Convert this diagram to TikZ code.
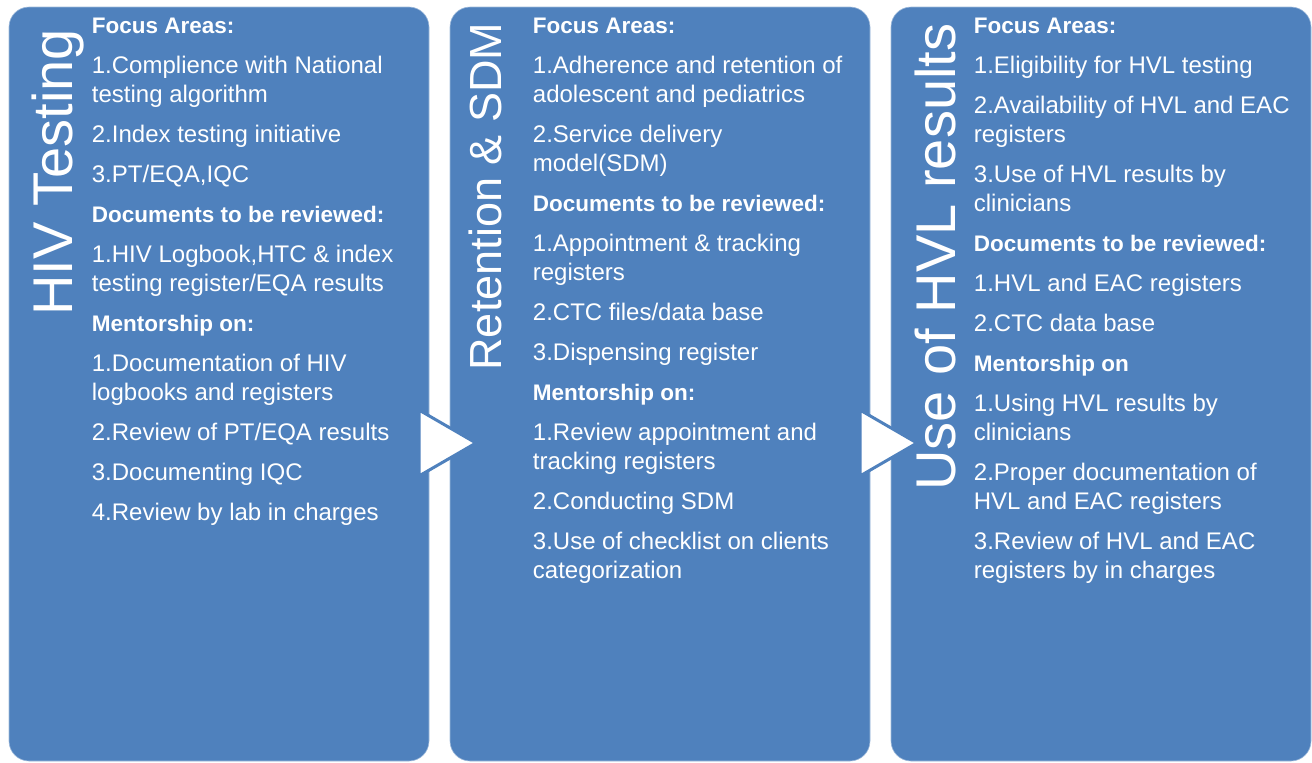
\documentclass[tikz,border=0pt]{standalone}
\usepackage{fontspec}
\setmainfont{Liberation Sans}
\usetikzlibrary{positioning, calc}

\definecolor{panelblue}{HTML}{4F81BD}

% bold sub-heading inside a panel list
\newcommand{\listhead}[1]{{\bfseries\fontsize{22.5}{29}\selectfont #1\par}}

\begin{document}
\begin{tikzpicture}[
  x=1pt, y=-1pt,
  panel/.style={fill=panelblue, draw=panelblue!55!white, line width=0.6pt,
                rounded corners=20pt, minimum width=420pt, minimum height=754pt,
                inner sep=0pt},
  title/.style={text=white, rotate=90, anchor=base west, inner sep=0pt},
  items/.style={text=white, anchor=base west, inner sep=0pt,
                font=\fontsize{24}{29}\selectfont},
  chevron/.style={fill=white, draw=panelblue, line width=3pt, line join=miter},
]
\useasboundingbox (0,0) rectangle (1312,763);

% --- three panels ---
\node[panel] (testing) at (219,384) {};
\node[panel, right=20.4pt of testing] (retention) {};
\node[panel, right=20.4pt of retention] (hvl) {};

% --- arrows between panels ---
\foreach \x in {419,860}
  \draw[chevron] (\x,410) -- (\x+57,443) -- (\x,476) -- cycle;

% --- panel titles ---
\node[title, font=\fontsize{56}{60}\selectfont] (ttesting)
  at ([shift={(64,309)}]testing.north west) {HIV Testing};
\node[title, font=\fontsize{45}{50}\selectfont] (tretention)
  at ([shift={(52,364)}]retention.north west) {Retention \& SDM};
\node[title, font=\fontsize{56}{60}\selectfont] (thvl)
  at ([shift={(65,484)}]hvl.north west) {Use of HVL results};

% --- panel lists ---
\node[items] (ltesting) at ([shift={(83,27)}]testing.north west)
  {\parbox[t]{330pt}{\raggedright\setlength{\parskip}{11pt}%
   \listhead{Focus Areas:}
   1.Complience with National\\ testing algorithm\par
   2.Index testing initiative\par
   3.PT/EQA,IQC\par
   \listhead{Documents to be reviewed:}
   1.HIV Logbook,HTC \& index\\ testing register/EQA results\par
   \listhead{Mentorship on:}
   1.Documentation of HIV\\ logbooks and registers\par
   2.Review of PT/EQA results\par
   3.Documenting IQC\par
   4.Review by lab in charges}};

\node[items] (lretention) at ([shift={(83,27)}]retention.north west)
  {\parbox[t]{330pt}{\raggedright\setlength{\parskip}{11pt}%
   \listhead{Focus Areas:}
   1.Adherence and retention of\\ adolescent and pediatrics\par
   2.Service delivery\\ model(SDM)\par
   \listhead{Documents to be reviewed:}
   1.Appointment \& tracking\\ registers\par
   2.CTC files/data base\par
   3.Dispensing register\par
   \listhead{Mentorship on:}
   1.Review appointment and\\ tracking registers\par
   2.Conducting SDM\par
   3.Use of checklist on clients\\ categorization}};

\node[items] (lhvl) at ([shift={(83,27)}]hvl.north west)
  {\parbox[t]{330pt}{\raggedright\setlength{\parskip}{11pt}%
   \listhead{Focus Areas:}
   1.Eligibility for HVL testing\par
   2.Availability of HVL and EAC\\ registers\par
   3.Use of HVL results by\\ clinicians\par
   \listhead{Documents to be reviewed:}
   1.HVL and EAC registers\par
   2.CTC data base\par
   \listhead{Mentorship on}
   1.Using HVL results by\\ clinicians\par
   2.Proper documentation of\\ HVL and EAC registers\par
   3.Review of HVL and EAC\\ registers by in charges}};

\end{tikzpicture}
\end{document}
